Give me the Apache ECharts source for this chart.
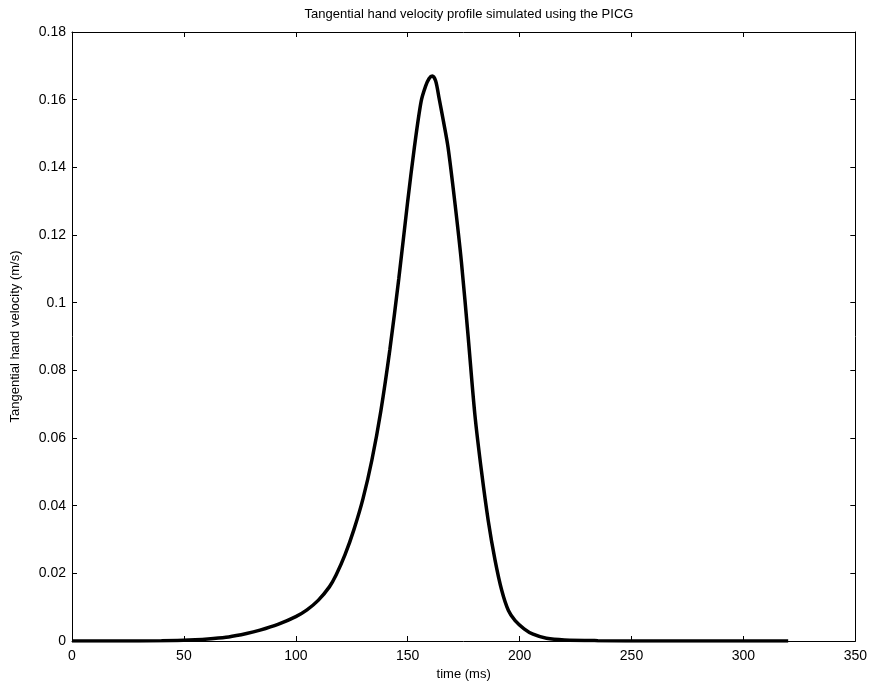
<!DOCTYPE html>
<html>
<head>
<meta charset="utf-8">
<script src="https://cdn.jsdelivr.net/npm/echarts@6/dist/echarts.min.js"></script>
<style>
  html, body { margin: 0; padding: 0; background: #fff; }
  #chart { width: 870px; height: 687px; }
</style>
</head>
<body>
<div id="chart"></div>
<script>
// time (ms) and tangential velocity (m/s)
const timeMs = [0, 20, 40, 55, 62, 70, 78, 84, 92, 100, 105, 110, 115, 118, 122, 126, 130, 134, 138, 142,
    146, 150, 153, 156, 158, 159.5, 161, 162.5, 164, 166, 168, 171, 174, 177, 180, 183, 186, 189, 192, 195, 198,
    202, 206, 212, 220, 235, 260, 290, 320];
const velocity = [0, 0, 0.0001, 0.0004, 0.0007, 0.0012, 0.0022, 0.0032, 0.0049, 0.0072, 0.0092, 0.012,
    0.016, 0.0195, 0.0255, 0.033, 0.042, 0.0535, 0.068, 0.086, 0.107, 0.130, 0.146, 0.1595, 0.164, 0.1662, 0.167,
    0.1655, 0.1605, 0.1535, 0.146, 0.130, 0.112, 0.090, 0.067, 0.050, 0.0355, 0.024, 0.015, 0.009, 0.006, 0.0036,
    0.002, 0.0008, 0.0003, 0.0001, 0, 0, 0];

const titleText = 'Tangential hand velocity profile simulated using the PICG';
const xName = 'time (ms)';
const yName = 'Tangential hand velocity (m/s)';

const font = 'Liberation Sans, Arial, sans-serif';

const chart = echarts.init(document.getElementById('chart'), null, {renderer: 'canvas'});

const axisCommon = {
    axisLine: {show: true, onZero: false, lineStyle: {color: '#000', width: 1}},
    axisTick: {show: true, inside: true, length: 5, lineStyle: {color: '#000'}},
    splitLine: {show: false},
};

chart.setOption({
    animation: false,
    backgroundColor: '#fff',
    title: {
        text: titleText,
        left: 464,
        top: 3,
        textAlign: 'center',
        textStyle: {fontFamily: font, fontSize: 13, fontWeight: 'normal', color: '#000'},
    },
    grid: {left: 72, right: 14, top: 32, bottom: 46},
    xAxis: [
        Object.assign({
            type: 'value',
            min: 0,
            max: 350,
            interval: 50,
            name: xName,
            nameLocation: 'middle',
            nameGap: 27,
            nameTextStyle: {fontFamily: font, fontSize: 13, color: '#000'},
            axisLabel: {fontFamily: font, fontSize: 14, color: '#000', margin: 8},
        }, axisCommon),
        Object.assign({
            type: 'value',
            position: 'top',
            min: 0,
            max: 350,
            interval: 50,
            axisLabel: {show: false},
        }, axisCommon),
    ],
    yAxis: [
        Object.assign({
            type: 'value',
            min: 0,
            max: 0.18,
            interval: 0.02,
            name: yName,
            nameLocation: 'middle',
            nameGap: 50,
            nameTextStyle: {fontFamily: font, fontSize: 13, color: '#000'},
            axisLabel: {
                fontFamily: font, fontSize: 14, color: '#000', margin: 6,
                formatter: v => (v === 0 ? '0' : String(+v.toFixed(2))),
            },
        }, axisCommon),
        Object.assign({
            type: 'value',
            position: 'right',
            min: 0,
            max: 0.18,
            interval: 0.02,
            axisLabel: {show: false},
        }, axisCommon),
    ],
    series: [{
        type: 'line',
        data: timeMs.map((t, i) => [t, velocity[i]]),
        smooth: 0.3,
        showSymbol: false,
        lineStyle: {color: '#000', width: 3.5},
    }],
});
</script>
</body>
</html>
